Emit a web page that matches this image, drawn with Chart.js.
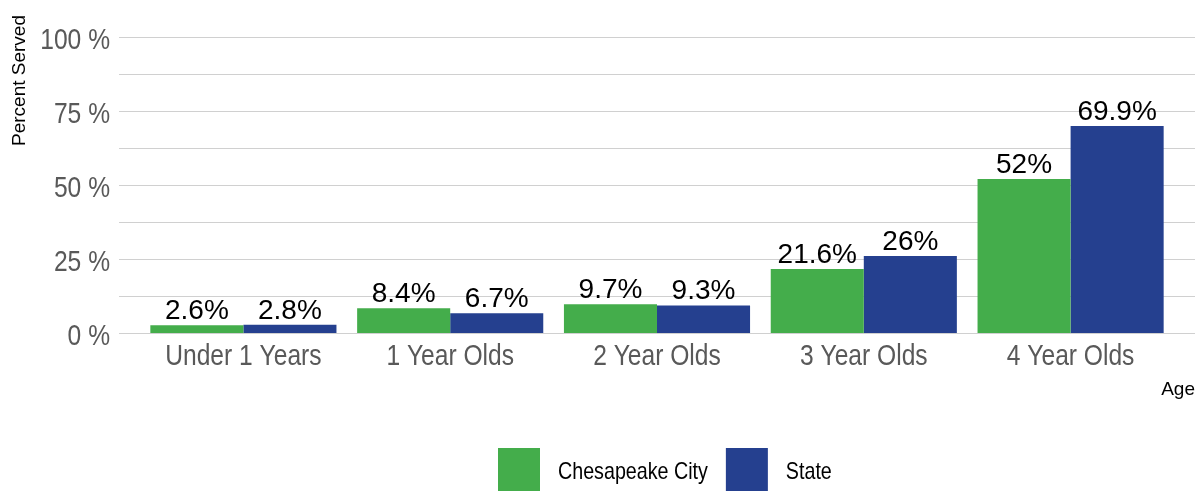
<!DOCTYPE html>
<html>
<head>
<meta charset="utf-8">
<script src="https://cdn.jsdelivr.net/npm/chart.js@4"></script>
<style>
  html, body { margin: 0; padding: 0; background: #fff; }
  #wrap { width: 1203px; height: 491px; }
</style>
</head>
<body>
<div id="wrap"><canvas id="ageChart" width="1203" height="491"></canvas></div>
<script>
// data
const ageGroups = ["Under 1 Years", "1 Year Olds", "2 Year Olds", "3 Year Olds", "4 Year Olds"];
const cityValues = [2.6, 8.4, 9.7, 21.6, 52];
const stateValues = [2.8, 6.7, 9.3, 26, 69.9];
const seriesNames = ["Chesapeake City", "State"];
const yTickLabels = ["0 %", "25 %", "50 %", "75 %", "100 %"];

const GREEN = "#44ad4b";
const BLUE = "#25408f";
const FONT = "'Liberation Sans', Arial, sans-serif";
const NARROW = 0.82; // original uses a narrow face, squeeze the regular one

function narrowWidth(ctx, text) {
  return ctx.measureText(text).width * NARROW;
}
function narrowText(ctx, text, x, y) {
  ctx.fillText(text, x, y, narrowWidth(ctx, text));
}

// gridlines a bit wider than the plot, like the original
const gridPlugin = {
  id: "wideGrid",
  beforeDatasetsDraw(chart) {
    const { ctx, chartArea, scales } = chart;
    const y = scales.y;
    ctx.save();
    ctx.strokeStyle = "#d0d0d0";
    ctx.lineWidth = 1;
    y.ticks.forEach(t => {
      const py = Math.round(y.getPixelForValue(t.value)) + 0.5;
      ctx.beginPath();
      ctx.moveTo(chartArea.left - 21, py);
      ctx.lineTo(chartArea.right + 21, py);
      ctx.stroke();
    });
    ctx.restore();
  }
};

// tick labels (narrow), value labels, axis titles, legend
const labelPlugin = {
  id: "valueLabels",
  afterDatasetsDraw(chart) {
    const { ctx, chartArea, scales } = chart;
    ctx.save();

    // axis tick labels
    ctx.fillStyle = "#595959";
    ctx.font = "30px " + FONT;
    ctx.textBaseline = "alphabetic";
    ctx.textAlign = "center";
    ageGroups.forEach((lab, i) => {
      narrowText(ctx, lab, scales.x.getPixelForTick(i), chartArea.bottom + 32);
    });
    ctx.textAlign = "right";
    yTickLabels.forEach((lab, i) => {
      narrowText(ctx, lab, chartArea.left - 30, scales.y.getPixelForValue(i * 25) + 12);
    });

    // value labels
    ctx.fillStyle = "#000";
    ctx.font = "28px " + FONT;
    ctx.textAlign = "center";
    chart.data.datasets.forEach((ds, i) => {
      chart.getDatasetMeta(i).data.forEach((bar, j) => {
        ctx.fillText(ds.data[j] + "%", bar.x, bar.y - 6);
      });
    });

    // axis titles
    ctx.font = "19px " + FONT;
    ctx.textAlign = "right";
    ctx.fillText("Age", chartArea.right + 21, 395);

    // legend
    ctx.font = "24px " + FONT;
    ctx.textAlign = "left";
    const box = 42, gap = 18;
    const items = chart.data.datasets.map(ds => ({ text: ds.label, color: ds.backgroundColor, w: narrowWidth(ctx, ds.label) }));
    const total = items.reduce((s, it) => s + box + gap + it.w, 0) + gap * (items.length - 1);
    let lx = Math.round((chartArea.left + chartArea.right) / 2 + 8 - total / 2);
    items.forEach(it => {
      ctx.fillStyle = it.color;
      ctx.fillRect(lx, 448, box, 43);
      ctx.fillStyle = "#000";
      narrowText(ctx, it.text, lx + box + gap, 479);
      lx += box + gap + it.w + gap;
    });

    ctx.translate(20, 15);
    ctx.rotate(-Math.PI / 2);
    ctx.font = "19px " + FONT;
    ctx.textAlign = "right";
    ctx.textBaseline = "middle";
    ctx.fillText("Percent Served", 0, 0);
    ctx.restore();
  }
};

new Chart(document.getElementById("ageChart"), {
  type: "bar",
  data: {
    labels: ageGroups,
    datasets: [
      { label: seriesNames[0], data: cityValues, backgroundColor: GREEN },
      { label: seriesNames[1], data: stateValues, backgroundColor: BLUE }
    ]
  },
  options: {
    responsive: false,
    animation: false,
    layout: { padding: { left: 0, right: 29, top: 37, bottom: 0 } },
    datasets: { bar: { categoryPercentage: 0.9, barPercentage: 1.0 } },
    scales: {
      x: {
        grid: { display: false },
        border: { display: false },
        ticks: { display: false },
        afterFit(s) { s.height = 158; }
      },
      y: {
        min: 0,
        max: 100,
        grid: { display: false },
        border: { display: false },
        ticks: { display: false, stepSize: 12.5 },
        afterFit(s) { s.width = 140; }
      }
    },
    plugins: {
      legend: { display: false },
      tooltip: { enabled: false }
    }
  },
  plugins: [gridPlugin, labelPlugin]
});
</script>
</body>
</html>
